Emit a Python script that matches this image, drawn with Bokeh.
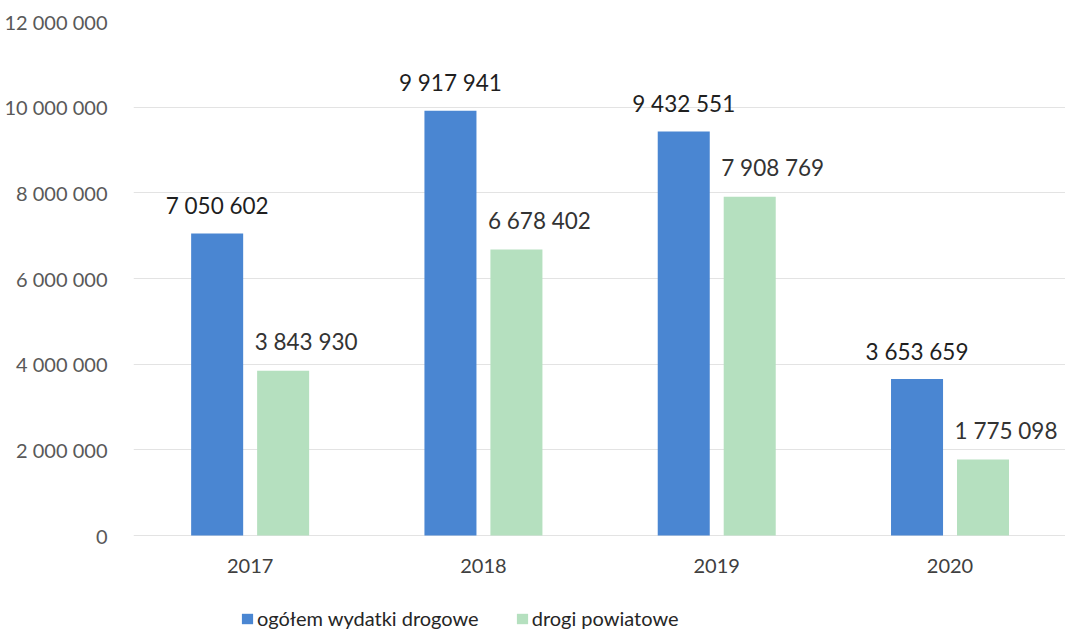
import numpy as np
from bokeh.plotting import figure
from bokeh.models import (ColumnDataSource, Range1d, FixedTicker, Legend, LegendItem)
from bokeh.core.properties import value
from bokeh.embed import file_html
from bokeh.resources import INLINE

years = ["2017", "2018", "2019", "2020"]
total_roads = [7050602, 9917941, 9432551, 3653659]
county_roads = [3843930, 6678402, 7908769, 1775098]
series_names = ["ogółem wydatki drogowe", "drogi powiatowe"]
y_ticks = [0, 2000000, 4000000, 6000000, 8000000, 10000000, 12000000]

FONT = "Lato"
BLUE = "#4a86d2"
GREEN = "#b5e0bf"
BAR_W = 0.223
OFF = 0.1414

# frame spans y 21..640 px; value 0 sits 105 px above the bottom
Y_MAX = 12000000
Y_MIN = -Y_MAX * 105 / 514


def fmt(v):
    return f"{v:,}".replace(",", " ")


idx = np.arange(len(years)) + 0.5
src_a = ColumnDataSource(dict(x=idx - OFF, top=total_roads,
                              label=[fmt(v) for v in total_roads]))
src_b = ColumnDataSource(dict(x=idx + OFF, top=county_roads,
                              label=[fmt(v) for v in county_roads]))

p = figure(width=1065, height=640, output_backend="svg", toolbar_location=None,
           x_range=Range1d(0, 3.995), y_range=Range1d(Y_MIN, Y_MAX),
           min_border_left=133, min_border_right=0, min_border_top=21,
           min_border_bottom=0)
p.outline_line_color = None
p.background_fill_color = "white"
p.border_fill_color = "white"

r_a = p.vbar(x="x", top="top", width=BAR_W, source=src_a, color=BLUE, line_color=None)
r_b = p.vbar(x="x", top="top", width=BAR_W, source=src_b, color=GREEN, line_color=None)

p.text(x="x", y="top", text="label", source=src_a, text_align="center",
       text_baseline="alphabetic", y_offset=-28, text_font=value(FONT),
       text_font_size="22.5px", text_color="#1f1f1f")
p.text(x="x", y="top", text="label", source=src_b, text_align="center",
       text_baseline="alphabetic", y_offset=-29, x_offset=23, text_font=value(FONT),
       text_font_size="22.5px", text_color="#333333")

# axes
p.yaxis.ticker = FixedTicker(ticks=y_ticks)
p.yaxis.major_label_overrides = {t: fmt(t) for t in y_ticks}
p.yaxis.axis_line_color = None
p.yaxis.major_tick_line_color = None
p.yaxis.minor_tick_line_color = None
p.yaxis.major_label_standoff = 20
p.yaxis.major_label_text_font = FONT
p.yaxis.major_label_text_font_size = "20px"
p.yaxis.major_label_text_color = "#595959"

p.xaxis.fixed_location = 0
p.xaxis.ticker = FixedTicker(ticks=list(idx))
p.xaxis.major_label_overrides = {float(x): y for x, y in zip(idx, years)}
p.xaxis.axis_line_color = None
p.xaxis.major_tick_line_color = None
p.xaxis.minor_tick_line_color = None
p.xaxis.major_label_standoff = 17
p.xaxis.major_label_text_font = FONT
p.xaxis.major_label_text_font_size = "20px"
p.xaxis.major_label_text_color = "#404040"

p.xgrid.grid_line_color = None
p.ygrid.grid_line_color = "#e3e3e3"
p.ygrid.grid_line_width = 1

legend = Legend(items=[LegendItem(label=series_names[0], renderers=[r_a]),
                       LegendItem(label=series_names[1], renderers=[r_b])],
                orientation="horizontal", location=(107, 10),
                label_text_font=FONT, label_text_font_size="20px",
                label_text_color="#262626", glyph_width=14, glyph_height=13,
                label_standoff=3, spacing=36, border_line_color=None,
                background_fill_alpha=0, padding=0, margin=0)
p.add_layout(legend, "center")

open("out.html", "w").write(file_html(p, INLINE))
